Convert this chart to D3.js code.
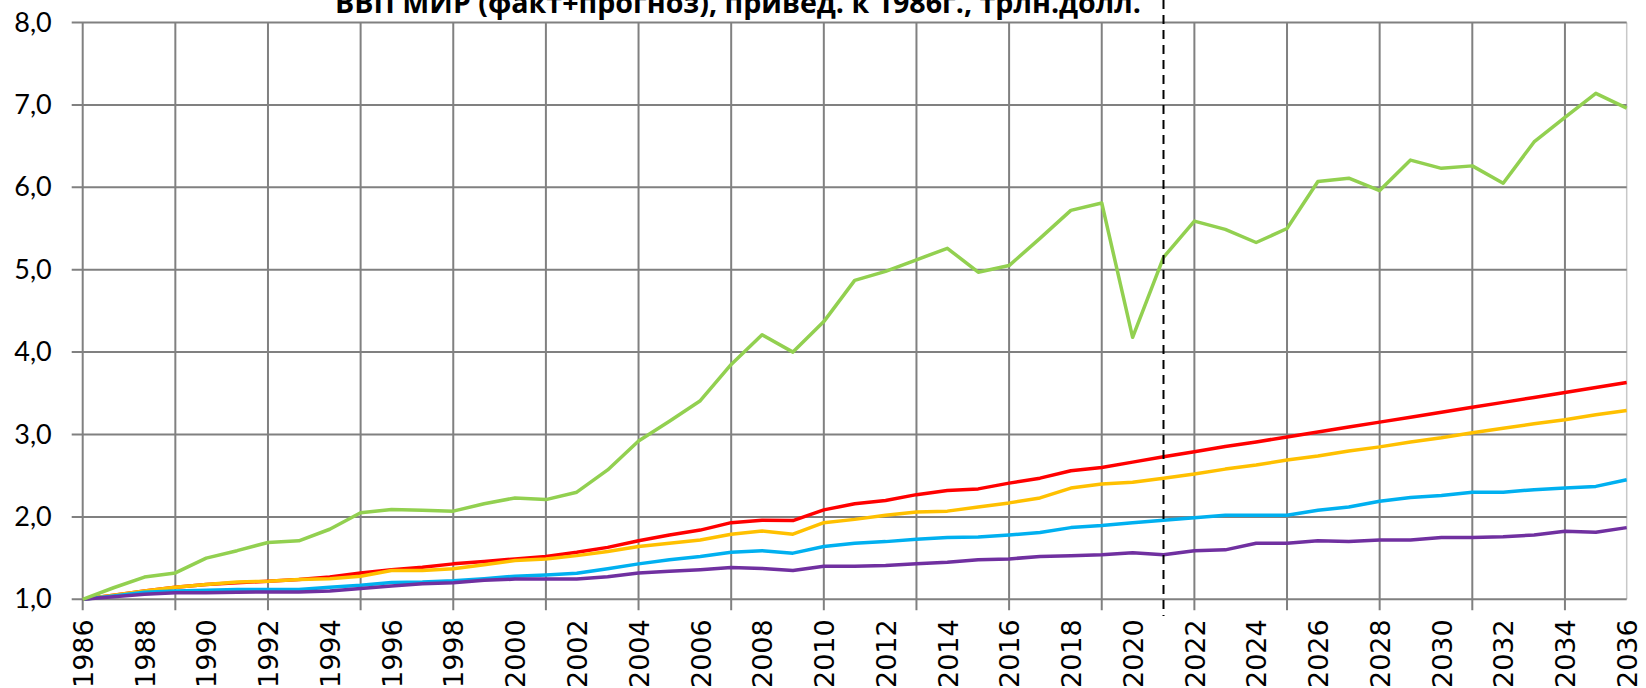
<!DOCTYPE html>
<html>
<head>
<meta charset="utf-8">
<script src="https://cdn.jsdelivr.net/npm/d3@7"></script>
<style>
  html, body { margin: 0; padding: 0; background: #fff; overflow: hidden; }
  svg { display: block; }
</style>
</head>
<body>
<svg id="chart" width="1646" height="688"></svg>
<script>
const title = "ВВП МИР (факт+прогноз), привед. к 1986г., трлн.долл.";
const years = d3.range(1986, 2037);
const yTicks = [1, 2, 3, 4, 5, 6, 7, 8];
const xLabelYears = d3.range(1986, 2037, 2);
const xGridYears = d3.range(1986, 2036, 3);
const forecastYear = 2021;

const green = [1.00,1.14,1.27,1.32,1.50,1.59,1.69,1.71,1.85,2.05,
  2.09,2.08,2.07,2.16,2.23,2.21,2.30,2.57,2.92,3.16,
  3.41,3.85,4.21,4.00,4.37,4.87,4.98,5.12,5.26,4.97,
  5.05,5.38,5.72,5.81,4.18,5.15,5.59,5.49,5.33,5.50,
  6.07,6.11,5.96,6.33,6.23,6.26,6.05,6.55,6.85,7.14,6.96];
const red = [1.00,1.05,1.10,1.145,1.18,1.20,1.22,1.24,1.27,1.32,
  1.36,1.39,1.43,1.46,1.49,1.52,1.57,1.63,1.71,1.78,
  1.84,1.93,1.96,1.955,2.085,2.16,2.20,2.27,2.32,2.34,
  2.41,2.47,2.56,2.60,2.665,2.73,2.79,2.855,2.91,2.97,
  3.03,3.09,3.15,3.21,3.27,3.33,3.39,3.45,3.51,3.57,3.63];
const orange = [1.00,1.05,1.10,1.145,1.18,1.21,1.22,1.24,1.25,1.28,
  1.35,1.35,1.37,1.42,1.47,1.49,1.53,1.58,1.64,1.68,
  1.72,1.79,1.83,1.79,1.93,1.97,2.02,2.06,2.07,2.12,
  2.17,2.23,2.35,2.40,2.42,2.47,2.52,2.58,2.63,2.69,
  2.74,2.80,2.85,2.91,2.96,3.02,3.075,3.13,3.18,3.24,3.29];
const blue = [1.00,1.04,1.085,1.10,1.11,1.12,1.12,1.12,1.145,1.17,
  1.205,1.21,1.225,1.25,1.28,1.295,1.315,1.37,1.43,1.48,
  1.52,1.57,1.59,1.56,1.64,1.68,1.70,1.73,1.75,1.755,
  1.78,1.81,1.87,1.895,1.93,1.96,1.99,2.02,2.02,2.02,
  2.08,2.12,2.19,2.235,2.26,2.30,2.30,2.33,2.35,2.37,2.45];
const purple = [1.00,1.03,1.06,1.08,1.08,1.085,1.09,1.09,1.10,1.13,
  1.16,1.19,1.20,1.23,1.245,1.245,1.245,1.275,1.32,1.34,
  1.36,1.385,1.375,1.35,1.40,1.40,1.41,1.43,1.45,1.48,
  1.49,1.52,1.53,1.54,1.565,1.54,1.59,1.60,1.68,1.68,
  1.71,1.70,1.72,1.72,1.75,1.75,1.76,1.78,1.825,1.815,1.87];

const series = [
  { values: red, color: "#FF0000" },
  { values: orange, color: "#FFC000" },
  { values: blue, color: "#00B0F0" },
  { values: purple, color: "#7030A0" },
  { values: green, color: "#92D050" }
];

const svg = d3.select("#chart");
const pLeft = 82.7, pRight = 1626.7, pTop = 22.5, pBottom = 599.3;
const x = d3.scaleLinear().domain([1986, 2036]).range([pLeft, pRight]);
const y = d3.scaleLinear().domain([1, 8]).range([pBottom, pTop]);
const gridColor = "#808080";

// right border
svg.append("line")
  .attr("x1", x(2036)).attr("x2", x(2036))
  .attr("y1", y(8)).attr("y2", y(1))
  .attr("stroke", "#c8c8c8").attr("stroke-width", 1.5);

// horizontal gridlines
svg.append("g").selectAll("line").data(yTicks).join("line")
  .attr("x1", pLeft - 11).attr("x2", pRight)
  .attr("y1", d => y(d)).attr("y2", d => y(d))
  .attr("stroke", gridColor).attr("stroke-width", 2);

// vertical gridlines with ticks
svg.append("g").selectAll("line").data(xGridYears).join("line")
  .attr("x1", d => x(d)).attr("x2", d => x(d))
  .attr("y1", pTop).attr("y2", pBottom + 11)
  .attr("stroke", gridColor).attr("stroke-width", 2);

// y axis labels
const yAxis = d3.axisLeft(y).tickValues(yTicks).tickSize(0).tickPadding(0)
  .tickFormat(d => d3.format(".1f")(d).replace(".", ","));
const gy = svg.append("g").attr("transform", `translate(${pLeft - 31},0)`).call(yAxis);
gy.select(".domain").remove();
gy.selectAll("text")
  .attr("font-family", "Lato, 'Open Sans', sans-serif")
  .attr("font-size", 27)
  .attr("fill", "#000");

// x axis labels
const xAxis = d3.axisBottom(x).tickValues(xLabelYears).tickSize(0).tickPadding(0)
  .tickFormat(d3.format("d"));
const gx = svg.append("g").attr("transform", `translate(0,${pBottom + 20})`).call(xAxis);
gx.select(".domain").remove();
gx.selectAll("text")
  .attr("font-family", "'DejaVu Sans', Verdana, sans-serif")
  .attr("font-size", 27)
  .attr("fill", "#000")
  .attr("transform", "rotate(-90)")
  .attr("text-anchor", "end")
  .attr("x", 0).attr("y", 0)
  .attr("dy", "0.36em");

// series lines
const line = d3.line().x((d, i) => x(years[i])).y(d => y(d));
svg.append("g").selectAll("path").data(series).join("path")
  .attr("d", d => line(d.values))
  .attr("fill", "none")
  .attr("stroke", d => d.color)
  .attr("stroke-width", 3.5)
  .attr("stroke-linejoin", "round");

// forecast divider
svg.append("line")
  .attr("x1", x(forecastYear)).attr("x2", x(forecastYear))
  .attr("y1", 0).attr("y2", 616)
  .attr("stroke", "#000").attr("stroke-width", 2)
  .attr("stroke-dasharray", "9,6");

// title
const t = svg.append("text")
  .attr("x", 738).attr("y", 12.5)
  .attr("text-anchor", "middle")
  .attr("font-family", "'Open Sans', Lato, sans-serif")
  .attr("font-weight", "bold")
  .attr("font-size", 26)
  .attr("fill", "#000")
  .text(title);
const w = t.node().getComputedTextLength();
t.attr("font-size", 26 * 806 / w);
</script>
</body>
</html>
